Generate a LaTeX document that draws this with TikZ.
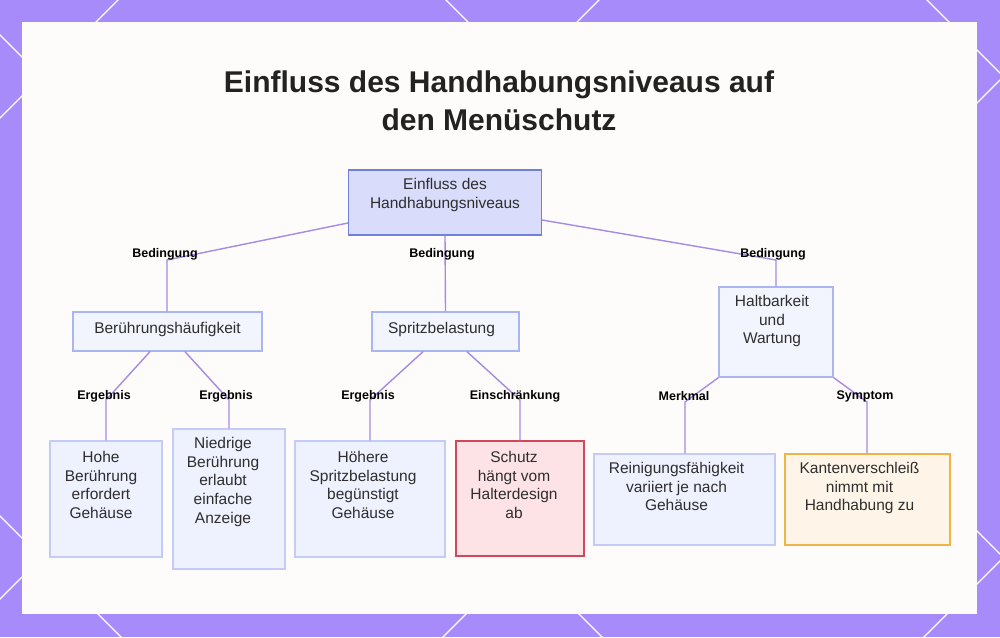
\documentclass[tikz,border=0pt]{standalone}
\usepackage{fontspec}
\setmainfont{Liberation Sans}
\usetikzlibrary{calc}
\definecolor{frame}{HTML}{A78BFA}
\definecolor{panel}{HTML}{FDFCFB}
\definecolor{rootfill}{HTML}{D9DCFB}
\definecolor{rootdraw}{HTML}{7081DA}
\definecolor{boxfill}{HTML}{F3F5FE}
\definecolor{boxdraw}{HTML}{A9B6F2}
\definecolor{leaffill}{HTML}{EEF1FE}
\definecolor{leafdraw}{HTML}{C3CCF6}
\definecolor{redfill}{HTML}{FDE3E6}
\definecolor{reddraw}{HTML}{D2485A}
\definecolor{orfill}{HTML}{FEF5E8}
\definecolor{ordraw}{HTML}{EFB443}
\definecolor{conn}{HTML}{A68AE4}
\definecolor{txt}{HTML}{2E2E2E}
\definecolor{titletxt}{HTML}{222222}
\begin{document}
\begin{tikzpicture}[x=1pt,y=-1pt,
  boxbase/.style={draw,line width=1.3pt,inner sep=0pt},
  rootbox/.style={boxbase,fill=rootfill,draw=rootdraw},
  midbox/.style={boxbase,fill=boxfill,draw=boxdraw},
  leafbox/.style={boxbase,fill=leaffill,draw=leafdraw},
  redbox/.style={boxbase,fill=redfill,draw=reddraw},
  orbox/.style={boxbase,fill=orfill,draw=ordraw},
  boxtext/.style={anchor=north,align=center,font=\fontsize{15.5}{18.6}\selectfont,text=txt,inner sep=0pt},
  conntext/.style={font=\bfseries\fontsize{12.5}{14}\selectfont,text=black,inner sep=1pt},
  link/.style={draw=conn,line width=1.4pt},
  grid/.style={draw=white,line width=1.3pt}
]
\useasboundingbox (0,0) rectangle (1000,637);
% frame
\fill[frame] (0,0) rectangle (1000,637);
\begin{scope}
\clip (0,0) rectangle (1000,637);
\foreach \c in {118,599,1080,1561} {\draw[grid] (\c-700,700) -- (\c+700,-700);}
\foreach \c in {-516,-35,446,927} {\draw[grid] (\c-700,-700) -- (\c+700,700);}
\end{scope}
\fill[panel] (22,22) rectangle (977,614);
% title
\node[font=\bfseries\fontsize{30}{38.5}\selectfont,text=titletxt,align=center,anchor=north] (title) at (499,67) {Einfluss des Handhabungsniveaus auf\\den Menüschutz};
% boxes
\node[rootbox,minimum width=193pt,minimum height=65pt] (root) at (445,202.5) {};
\node[boxtext] at ($(root.north)+(0,9)$) {Einfluss des\\Handhabungsniveaus};
\node[midbox,minimum width=189pt,minimum height=39pt] (beru) at (167.5,331.5) {};
\node[boxtext] at ($(beru.north)+(0,10.5)$) {Berührungshäufigkeit};
\node[midbox,minimum width=147pt,minimum height=39pt] (spri) at (445.5,331.5) {};
\node[boxtext] at ($(spri.north)+(-4,10.5)$) {Spritzbelastung};
\node[midbox,minimum width=114pt,minimum height=90pt] (halt) at (776,332) {};
\node[boxtext] at ($(halt.north)+(-4,9)$) {Haltbarkeit\\und\\Wartung};
\node[leafbox,minimum width=112pt,minimum height=116pt] (hohe) at (106,499) {};
\node[boxtext] at ($(hohe.north)+(-5,11)$) {Hohe\\Berührung\\erfordert\\Gehäuse};
\node[leafbox,minimum width=112pt,minimum height=140pt] (nied) at (229,499) {};
\node[boxtext] at ($(nied.north)+(-6,9)$) {Niedrige\\Berührung\\erlaubt\\einfache\\Anzeige};
\node[leafbox,minimum width=150pt,minimum height=116pt] (hoeh) at (370,499) {};
\node[boxtext] at ($(hoeh.north)+(-7,11)$) {Höhere\\Spritzbelastung\\begünstigt\\Gehäuse};
\node[redbox,minimum width=128pt,minimum height=115pt] (schu) at (520,498.5) {};
\node[boxtext] at ($(schu.north)+(-6,11)$) {Schutz\\hängt vom\\Halterdesign\\ab};
\node[leafbox,minimum width=181pt,minimum height=91pt] (rein) at (684.5,499.5) {};
\node[boxtext] at ($(rein.north)+(-8,9)$) {Reinigungsfähigkeit\\variiert je nach\\Gehäuse};
\node[orbox,minimum width=165pt,minimum height=91pt] (kant) at (867.5,499.5) {};
\node[boxtext] at ($(kant.north)+(-8,9)$) {Kantenverschleiß\\nimmt mit\\Handhabung zu};
% connector bends
\coordinate (b1) at (167,260);
\coordinate (b2) at (776,260);
\coordinate (c1) at (106,400);
\coordinate (c2) at (229,400);
\coordinate (c3) at (370,400);
\coordinate (c4) at (520,400);
\coordinate (c5) at (685,402);
\coordinate (c6) at (867,402);
% connectors
\path[link] (root.west |- 0,223) -- (b1) -- (beru.north -| b1);
\path[link] (root.south) -- (spri.north);
\path[link] (root.east |- 0,220) -- (b2) -- (halt.north);
\path[link] (beru.south -| 150,0) -- (c1) -- (hohe.north);
\path[link] (beru.south -| 185,0) -- (c2) -- (nied.north);
\path[link] (spri.south -| 423,0) -- (c3) -- (hoeh.north);
\path[link] (spri.south -| 467,0) -- (c4) -- (schu.north);
\path[link] (halt.south west) -- (c5) -- (rein.north -| c5);
\path[link] (halt.south east) -- (c6) -- (kant.north -| c6);
% connector labels
\node[conntext] (l1) at (165,254) {Bedingung};
\node[conntext] (l2) at (442,254) {Bedingung};
\node[conntext] (l3) at (773,254) {Bedingung};
\node[conntext] (l4) at (104,396) {Ergebnis};
\node[conntext] (l5) at (226,396) {Ergebnis};
\node[conntext] (l6) at (368,396) {Ergebnis};
\node[conntext] (l7) at (515,396) {Einschränkung};
\node[conntext] (l8) at (684,396) {Merkmal};
\node[conntext] (l9) at (865,396) {Symptom};
\end{tikzpicture}
\end{document}
